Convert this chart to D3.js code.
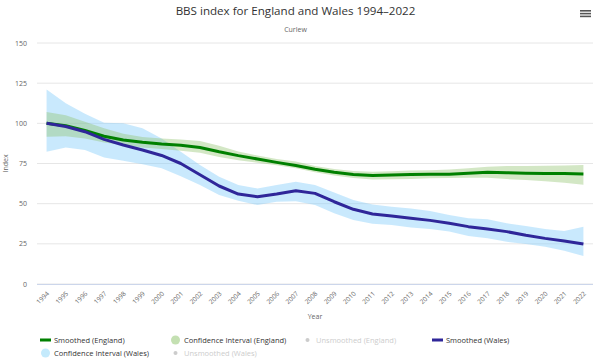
<!DOCTYPE html>
<html><head><meta charset="utf-8">
<script src="https://cdn.jsdelivr.net/npm/d3@7/dist/d3.min.js"></script>
<style>body{margin:0;background:#fff;}svg{font-family:"Open Sans",sans-serif;}</style>
</head><body><div id="chart"></div>
<script>
const years = d3.range(1994, 2023).map(String);
const englandSmoothed = [100,98.5,95.5,92,89.6,88.2,87.1,86.3,85,82.3,79.9,77.8,75.7,73.8,71.4,69.5,68.2,67.6,67.8,68.2,68.3,68.3,68.9,69.5,69.3,69,68.7,68.7,68.5];
const englandLow  = [91.7,92,90.5,88,86.5,85,84,83,81.7,79,77,75.5,73.9,72,69.5,67.5,66,65.1,65.2,65.3,65.8,66,66.2,66.2,65.3,64.7,63.9,63,61.8];
const englandHigh = [107,105,101,97,93.5,91.5,90.6,90,89,86,82.5,80,77.8,76.3,73.5,71.5,70.3,69.9,70.2,70.6,70.8,71.2,72,73,73.4,73.5,73.6,73.7,74];
const walesSmoothed = [100,98,94.8,90,86.5,83.4,80,75,68,61,56,54.3,56,58,56.4,51.2,46.5,43.6,42.3,40.9,39.6,37.8,35.7,34.2,32.6,30.3,28.4,26.8,24.9];
const walesLow  = [82.3,85,83.4,78.8,76.7,74.5,72,67,61.6,55.4,51.8,49.2,51.2,51.5,49.2,44,39.8,37.5,36.7,35.2,34.2,32.6,29.9,28.4,26.3,24.9,23.2,20.7,17.4];
const walesHigh = [121,112.5,106,100.4,100,97,90.6,82.3,74,66.8,61.6,59.5,61.6,63.7,61.6,57,52.3,49.5,48.1,47,45.5,42.9,40.9,40.3,37.8,36.1,34.2,33,35.7];
const yTicks = [0,25,50,75,100,125,150];

(function(){
const W = 600, H = 359;
const pL = 37, pR = 593, pT = 43, pB = 284;
const svg = d3.select("#chart").append("svg").attr("width", W).attr("height", H);

const x = d3.scalePoint().domain(years).range([pL, pR]).padding(0.5);
const y = d3.scaleLinear().domain([0,150]).range([pB, pT]);

svg.append("text").attr("x", 295.5).attr("y", 15).attr("text-anchor","middle")
  .attr("font-size", 11.6).attr("fill","#333").text("BBS index for England and Wales 1994–2022");
svg.append("text").attr("x", 295.5).attr("y", 31.5).attr("text-anchor","middle")
  .attr("font-size", 7).attr("fill","#666").text("Curlew");

const hb = svg.append("g").attr("transform","translate(580,10)");
[0,2.8,5.6].forEach(o => hb.append("rect").attr("x",0).attr("y",o).attr("width",11).attr("height",1.6).attr("fill","#555"));

svg.append("g").selectAll("line").data(yTicks).join("line")
  .attr("x1", pL).attr("x2", pR).attr("y1", d=>y(d)).attr("y2", d=>y(d))
  .attr("stroke","#e6e6e6").attr("stroke-width",1);

svg.append("g").selectAll("text").data(yTicks).join("text")
  .attr("x", 27).attr("y", d=>y(d)+2.5).attr("text-anchor","end")
  .attr("font-size", 7).attr("fill","#666").text(d=>d);
svg.append("text").attr("transform",`translate(8,${(pT+pB)/2}) rotate(-90)`)
  .attr("text-anchor","middle").attr("font-size",7).attr("fill","#666").text("Index");

svg.append("line").attr("x1",pL).attr("x2",pR).attr("y1",pB+0.5).attr("y2",pB+0.5)
  .attr("stroke","#ccd6eb");
svg.append("g").selectAll("text").data(years).join("text")
  .attr("transform", d=>`translate(${x(d)+3},${pB+10}) rotate(-45)`)
  .attr("text-anchor","end").attr("font-size",6.5).attr("fill","#666").text(d=>d);
svg.append("text").attr("x",(pL+pR)/2).attr("y",319).attr("text-anchor","middle")
  .attr("font-size",7).attr("fill","#666").text("Year");

const idx = d3.range(years.length);
const area = (lo, hi) => d3.area().x(i=>x(years[i])).y0(i=>y(lo[i])).y1(i=>y(hi[i]))(idx);
const line = (v) => d3.line().x(i=>x(years[i])).y(i=>y(v[i]))(idx);
svg.append("path").attr("d", area(walesLow, walesHigh)).attr("fill","rgb(135,206,250)").attr("fill-opacity",0.45);
svg.append("path").attr("d", area(englandLow, englandHigh)).attr("fill","rgb(144,196,110)").attr("fill-opacity",0.4);
svg.append("path").attr("d", line(englandSmoothed)).attr("fill","none").attr("stroke","#008000").attr("stroke-width",3).attr("stroke-linejoin","round");
svg.append("path").attr("d", line(walesSmoothed)).attr("fill","none").attr("stroke","#2f2699").attr("stroke-width",3).attr("stroke-linejoin","round");

const legend = [
  {label:"Smoothed (England)", type:"line", color:"#008000", x:40, y:340, text:"#333"},
  {label:"Confidence Interval (England)", type:"circle", color:"rgb(196,224,178)", x:170, y:340, text:"#333"},
  {label:"Unsmoothed (England)", type:"dot", color:"#ccc", x:302, y:340, text:"#ccc"},
  {label:"Smoothed (Wales)", type:"line", color:"#2f2699", x:432, y:340, text:"#333"},
  {label:"Confidence Interval (Wales)", type:"circle", color:"rgb(196,234,252)", x:40, y:353, text:"#333"},
  {label:"Unsmoothed (Wales)", type:"dot", color:"#ccc", x:170, y:353, text:"#ccc"}
];
const lg = svg.append("g");
legend.forEach(l => {
  if (l.type==="line") lg.append("rect").attr("x",l.x).attr("y",l.y-1.5).attr("width",11).attr("height",3).attr("fill",l.color);
  else if (l.type==="circle") lg.append("circle").attr("cx",l.x+5.5).attr("cy",l.y).attr("r",4.5).attr("fill",l.color);
  else lg.append("circle").attr("cx",l.x+5.5).attr("cy",l.y).attr("r",2).attr("fill",l.color);
  lg.append("text").attr("x",l.x+14).attr("y",l.y+2.5).attr("font-size",7.5).attr("fill",l.text).text(l.label);
});
})();
</script></body></html>
